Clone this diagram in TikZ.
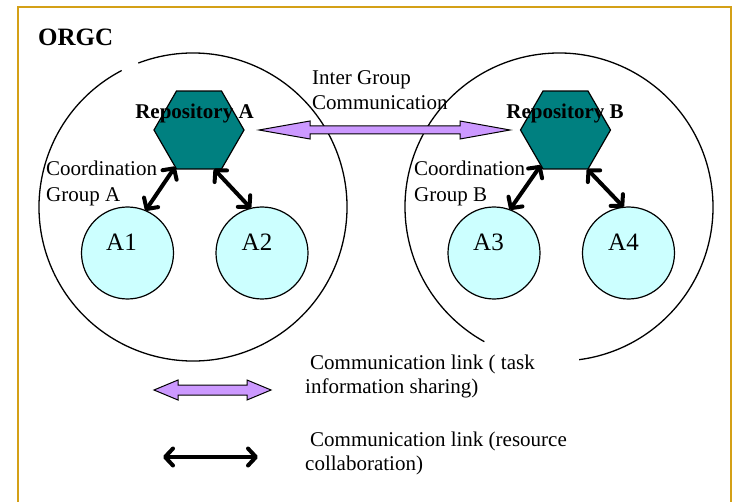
\documentclass[tikz,border=0pt]{standalone}
\usepackage{fontspec}
\setmainfont{Liberation Serif}
\usetikzlibrary{shapes.geometric,arrows.meta,calc}
\definecolor{framegold}{RGB}{212,160,23}
\definecolor{hexteal}{RGB}{0,128,128}
\definecolor{agentcyan}{RGB}{204,255,255}
\definecolor{linkpurple}{RGB}{204,153,255}
\begin{document}
\begin{tikzpicture}[x=1pt,y=-1pt,
  txt/.style={font=\fontsize{21}{25}\selectfont, inner sep=0pt, anchor=base west},
  reptxt/.style={font=\fontsize{21}{25}\selectfont\bfseries, inner sep=0pt, anchor=base},
  agtxt/.style={font=\fontsize{25}{30}\selectfont, inner sep=0pt, anchor=base},
  hexbox/.style={regular polygon, regular polygon sides=6, minimum size=90pt, draw=black, line width=1.2pt, fill=hexteal, inner sep=0pt, outer sep=0pt},
  agent/.style={circle, minimum size=92pt, draw=black, line width=1.2pt, fill=agentcyan, inner sep=0pt, outer sep=0pt},
  group/.style={draw=black, line width=1.3pt},
  blklink/.style={line width=4pt, {Straight Barb[length=8pt,width=17pt,round]}-{Straight Barb[length=8pt,width=17pt,round]}},
  purplelink/.style={draw=black, line width=1pt, fill=linkpurple, line join=miter}
]
\useasboundingbox (0,0) rectangle (738,502);
% frame
\draw[framegold, line width=2.5pt] (18,510) -- (18,7) -- (731,7) -- (731,510);
\node[font=\fontsize{25}{30}\selectfont\bfseries, inner sep=0pt, anchor=base west] (orgc) at (38,46) {ORGC};

% group circles (with gaps)
\draw[group] ([shift={(-117.6:154)}]193,207) arc[start angle=-117.6, end angle=-470.8, radius=154];
\draw[group] ([shift={(-277.5:154)}]559,207) arc[start angle=-277.5, end angle=-601, radius=154];

% repositories
\node[hexbox] (hexA) at (199,130) {};
\node[hexbox] (hexB) at (565.5,130) {};
\node[reptxt] (repA) at (194.5,119) {Repository A};
\node[reptxt] (repB) at (565,119) {Repository B};

% agents
\node[agent] (A1) at (127.5,253) {};
\node[agent] (A2) at (262,253) {};
\node[agent] (A3) at (494,253) {};
\node[agent] (A4) at (628.5,253) {};
\node[agtxt] (tA1) at (121.5,251) {A1};
\node[agtxt] (tA2) at (257,251) {A2};
\node[agtxt] (tA3) at (488.5,251) {A3};
\node[agtxt] (tA4) at (623.5,251) {A4};

% coordination links
\draw[blklink] (hexA.237) -- (A1.67);
\draw[blklink] (hexA.291) -- (A2.104);
\draw[blklink] (hexB.235) -- (A3.70);
\draw[blklink] (hexB.299) -- (A4.96);

% inter group link
\draw[purplelink] (259,130) -- (310,121) -- (310,126) -- (460,126) -- (460,121) -- (510,130)
  -- (460,139) -- (460,134) -- (310,134) -- (310,139) -- cycle;

% labels
\node[txt] (ig1) at (312,85) {Inter Group};
\node[txt] (ig2) at (312,110) {Communication};
\node[txt] (cgA1) at (46,176) {Coordination};
\node[txt] (cgA2) at (46,202) {Group A};
\node[txt] (cgB1) at (414,176) {Coordination};
\node[txt] (cgB2) at (414,202) {Group B};

% legend
\draw[purplelink] (154,390) -- (178,380) -- (178,385) -- (247,385) -- (247,380) -- (271,390)
  -- (247,400) -- (247,395) -- (178,395) -- (178,400) -- cycle;
\coordinate (lgL) at (163,457);
\coordinate (lgR) at (258,457);
\draw[blklink] (lgL) -- (lgR);
\node[txt] (lg1) at (310,369) {Communication link ( task};
\node[txt] (lg2) at (305,393) {information sharing)};
\node[txt] (lg3) at (310,446) {Communication link (resource};
\node[txt] (lg4) at (305,470) {collaboration)};
\end{tikzpicture}
\end{document}
